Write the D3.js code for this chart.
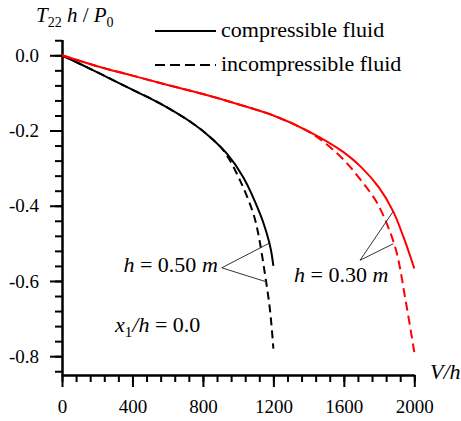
<!DOCTYPE html>
<html>
<head>
<meta charset="utf-8">
<script src="https://cdn.jsdelivr.net/npm/d3@7"></script>
<style>
  body { margin: 0; background: #fff; }
  .axis path, .axis line { stroke: #000; stroke-width: 2px; }
</style>
</head>
<body>
<script>
// V/h values and T22 h/P0 values
const blackSolidV = [0, 178, 367, 556, 745, 840, 935, 1029, 1124, 1160, 1185, 1200];
const blackSolidT = [0, -0.040, -0.084, -0.128, -0.182, -0.217, -0.261, -0.324, -0.421, -0.470, -0.515, -0.560];

const blackDashV = [0, 178, 367, 556, 745, 840, 920, 1010, 1086, 1114, 1152, 1181, 1200];
const blackDashT = [0, -0.040, -0.084, -0.128, -0.182, -0.217, -0.255, -0.332, -0.421, -0.474, -0.581, -0.678, -0.780];

const redSolidV = [0, 200, 400, 600, 800, 1000, 1200, 1400, 1600, 1700, 1800, 1880, 1940, 2000];
const redSolidT = [0, -0.029, -0.054, -0.079, -0.103, -0.130, -0.160, -0.202, -0.258, -0.298, -0.352, -0.415, -0.485, -0.567];

const redDashV = [0, 200, 400, 600, 800, 1000, 1200, 1400, 1500, 1600, 1700, 1786, 1850, 1900, 1950, 2000];
const redDashT = [0, -0.029, -0.054, -0.079, -0.103, -0.130, -0.160, -0.203, -0.236, -0.278, -0.334, -0.390, -0.455, -0.525, -0.650, -0.789];

// axis ticks
const xMajor = [0, 400, 800, 1200, 1600, 2000];
const xMinor = d3.range(0, 2001, 80);
const yMajor = [0, -0.2, -0.4, -0.6, -0.8];
const yMinor = d3.range(0.04, -0.85, -0.04);

// leader lines of the two labels: [vertex, end on curve, end on curve]
const leader50 = [[907, -0.565], [1175, -0.500], [1165, -0.603]];
const leader30 = [[1692, -0.545], [1880, -0.415], [1881, -0.501]];

const width = 461, height = 421;
const serif = "Liberation Serif";

const svg = d3.select("body").append("svg")
    .attr("width", width)
    .attr("height", height)
    .attr("font-family", serif);

const x = d3.scaleLinear().domain([0, 2000]).range([62, 414.3]);
const y = d3.scaleLinear().domain([-0.85, 0.042]).range([375, 39.5]);

// axes
svg.append("g")
    .attr("class", "axis")
    .attr("transform", "translate(0," + y(-0.85) + ")")
    .call(d3.axisBottom(x).tickValues(xMinor).tickSize(7).tickSizeOuter(0).tickFormat(""));

svg.append("g")
    .attr("class", "axis")
    .attr("transform", "translate(0," + y(-0.85) + ")")
    .call(d3.axisBottom(x).tickValues(xMajor).tickSize(12).tickSizeOuter(0).tickPadding(13)
        .tickFormat(d3.format("d")));

svg.append("g")
    .attr("class", "axis")
    .attr("transform", "translate(" + x(0) + ",0)")
    .call(d3.axisLeft(y).tickValues(yMinor).tickSize(7).tickSizeOuter(0).tickFormat(""));

svg.append("g")
    .attr("class", "axis")
    .attr("transform", "translate(" + x(0) + ",0)")
    .call(d3.axisLeft(y).tickValues(yMajor).tickSize(12).tickSizeOuter(0).tickPadding(11)
        .tickFormat(d => d.toFixed(1)));

svg.selectAll(".axis").attr("font-family", serif).attr("font-size", 19);

// curves
const line = d3.line()
    .x(d => x(d[0]))
    .y(d => y(d[1]))
    .curve(d3.curveCatmullRom.alpha(0.5));

const series = [
    {v: blackSolidV, t: blackSolidT, color: "#000", dash: null},
    {v: blackDashV, t: blackDashT, color: "#000", dash: "8,5"},
    {v: redSolidV, t: redSolidT, color: "#ff0000", dash: null},
    {v: redDashV, t: redDashT, color: "#ff0000", dash: "9,5"}
];

series.forEach(function(s) {
    svg.append("path")
        .datum(d3.zip(s.v, s.t))
        .attr("fill", "none")
        .attr("stroke", s.color)
        .attr("stroke-width", 2)
        .attr("stroke-dasharray", s.dash)
        .attr("d", line);
});

// leader lines
[leader50, leader30].forEach(function(l) {
    [l[1], l[2]].forEach(function(p) {
        svg.append("line")
            .attr("x1", x(l[0][0])).attr("y1", y(l[0][1]))
            .attr("x2", x(p[0])).attr("y2", y(p[1]))
            .attr("stroke", "#333")
            .attr("stroke-width", 1);
    });
});

// annotation labels
function hLabel(tx, ty, value, anchor) {
    const t = svg.append("text")
        .attr("x", tx).attr("y", ty)
        .attr("text-anchor", anchor)
        .attr("font-family", serif)
        .attr("font-size", 22);
    t.append("tspan").attr("font-style", "italic").text("h");
    t.append("tspan").text(" = " + value + " ");
    t.append("tspan").attr("font-style", "italic").text("m");
}
hLabel(x(leader50[0][0]) - 4, y(leader50[0][1]) + 4.5, "0.50", "end");
hLabel(x(leader30[0][0]) - 66, y(leader30[0][1]) + 22, "0.30", "start");

const xh = svg.append("text")
    .attr("x", 115).attr("y", 332)
    .attr("font-family", serif)
    .attr("font-size", 22);
xh.append("tspan").attr("font-style", "italic").text("x");
xh.append("tspan").attr("dy", 5).attr("font-size", 15).text("1");
xh.append("tspan").attr("dy", -5).attr("font-style", "italic").text("/h");
xh.append("tspan").text(" = 0.0");

// axis titles
const yt = svg.append("text")
    .attr("x", 36).attr("y", 22)
    .attr("font-family", serif)
    .attr("font-size", 21);
yt.append("tspan").attr("font-style", "italic").text("T");
yt.append("tspan").attr("dy", 5).attr("font-size", 14).text("22");
yt.append("tspan").attr("dy", -5).attr("font-style", "italic").text(" h");
yt.append("tspan").text(" / ");
yt.append("tspan").attr("font-style", "italic").text("P");
yt.append("tspan").attr("dy", 5).attr("font-size", 14).text("0");

svg.append("text")
    .attr("x", 430).attr("y", 379)
    .attr("font-family", serif)
    .attr("font-size", 22)
    .attr("font-style", "italic")
    .text("V/h");

// legend
const legendItems = [
    {label: "compressible fluid", dash: null, ly: 31},
    {label: "incompressible fluid", dash: "10,5", ly: 65}
];

legendItems.forEach(function(d) {
    svg.append("line")
        .attr("x1", 155).attr("x2", 216)
        .attr("y1", d.ly).attr("y2", d.ly)
        .attr("stroke", "#000")
        .attr("stroke-width", 2)
        .attr("stroke-dasharray", d.dash);
    svg.append("text")
        .attr("x", 221).attr("y", d.ly + 5.5)
        .attr("font-family", serif)
        .attr("font-size", 22)
        .text(d.label);
});
</script>
</body>
</html>
